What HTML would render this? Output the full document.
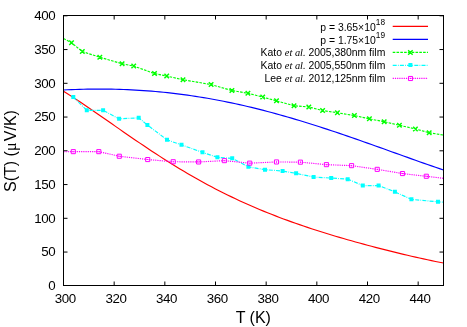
<!DOCTYPE html>
<html><head><meta charset="utf-8"><title>S(T)</title>
<style>html,body{margin:0;padding:0;background:#fff;width:467px;height:327px;overflow:hidden}body{position:relative;font-family:"Liberation Sans",sans-serif}</style>
</head><body>
<svg width="467" height="327" viewBox="0 0 467 327" style="position:absolute;left:0;top:0;will-change:transform">
<rect width="467" height="327" fill="#fff"/>
<path d="M63.50 285.50h4M443.50 285.50h-4M63.50 252.05h4M443.50 252.05h-4M63.50 218.30h4M443.50 218.30h-4M63.50 184.55h4M443.50 184.55h-4M63.50 150.80h4M443.50 150.80h-4M63.50 117.05h4M443.50 117.05h-4M63.50 83.30h4M443.50 83.30h-4M63.50 49.55h4M443.50 49.55h-4M63.50 15.80h4M443.50 15.80h-4M63.50 285.50v-4M63.50 15.50v4M114.17 285.50v-4M114.17 15.50v4M164.83 285.50v-4M164.83 15.50v4M215.50 285.50v-4M215.50 15.50v4M266.17 285.50v-4M266.17 15.50v4M316.83 285.50v-4M316.83 15.50v4M367.50 285.50v-4M367.50 15.50v4M418.17 285.50v-4M418.17 15.50v4" stroke="#000" stroke-width="1" fill="none"/>
<g fill="none" stroke-linejoin="round">
<path d="M63.50 91.29 L67.50 93.80 L71.50 96.36 L75.50 98.96 L79.50 101.60 L83.50 104.28 L87.50 106.99 L91.50 109.72 L95.50 112.47 L99.50 115.23 L103.50 118.01 L107.50 120.79 L111.50 123.58 L115.50 126.36 L119.50 129.15 L123.50 131.92 L127.50 134.69 L131.50 137.44 L135.50 140.17 L139.50 142.89 L143.50 145.59 L147.50 148.27 L151.50 150.92 L155.50 153.54 L159.50 156.14 L163.50 158.70 L167.50 161.24 L171.50 163.74 L175.50 166.21 L179.50 168.65 L183.50 171.05 L187.50 173.41 L191.50 175.74 L195.50 178.02 L199.50 180.27 L203.50 182.49 L207.50 184.66 L211.50 186.80 L215.50 188.89 L219.50 190.95 L223.50 192.97 L227.50 194.95 L231.50 196.89 L235.50 198.80 L239.50 200.67 L243.50 202.50 L247.50 204.29 L251.50 206.05 L255.50 207.78 L259.50 209.47 L263.50 211.12 L267.50 212.75 L271.50 214.34 L275.50 215.90 L279.50 217.43 L283.50 218.93 L287.50 220.40 L291.50 221.85 L295.50 223.27 L299.50 224.66 L303.50 226.03 L307.50 227.37 L311.50 228.69 L315.50 229.99 L319.50 231.26 L323.50 232.52 L327.50 233.76 L331.50 234.98 L335.50 236.18 L339.50 237.36 L343.50 238.53 L347.50 239.68 L351.50 240.81 L355.50 241.93 L359.50 243.04 L363.50 244.13 L367.50 245.21 L371.50 246.28 L375.50 247.33 L379.50 248.37 L383.50 249.40 L387.50 250.42 L391.50 251.42 L395.50 252.41 L399.50 253.39 L403.50 254.35 L407.50 255.30 L411.50 256.23 L415.50 257.15 L419.50 258.05 L423.50 258.93 L427.50 259.80 L431.50 260.64 L435.50 261.47 L439.50 262.27 L443.50 263.04" stroke="#ff0000" stroke-width="1.15"/>
<path d="M63.50 89.95 L67.50 89.77 L71.50 89.61 L75.50 89.47 L79.50 89.35 L83.50 89.25 L87.50 89.17 L91.50 89.11 L95.50 89.08 L99.50 89.07 L103.50 89.09 L107.50 89.12 L111.50 89.19 L115.50 89.27 L119.50 89.38 L123.50 89.52 L127.50 89.68 L131.50 89.86 L135.50 90.07 L139.50 90.31 L143.50 90.57 L147.50 90.85 L151.50 91.17 L155.50 91.51 L159.50 91.87 L163.50 92.26 L167.50 92.68 L171.50 93.13 L175.50 93.60 L179.50 94.09 L183.50 94.62 L187.50 95.17 L191.50 95.74 L195.50 96.34 L199.50 96.97 L203.50 97.62 L207.50 98.30 L211.50 99.01 L215.50 99.74 L219.50 100.50 L223.50 101.28 L227.50 102.08 L231.50 102.92 L235.50 103.77 L239.50 104.65 L243.50 105.55 L247.50 106.48 L251.50 107.43 L255.50 108.41 L259.50 109.40 L263.50 110.42 L267.50 111.46 L271.50 112.52 L275.50 113.61 L279.50 114.71 L283.50 115.84 L287.50 116.98 L291.50 118.14 L295.50 119.33 L299.50 120.53 L303.50 121.74 L307.50 122.98 L311.50 124.23 L315.50 125.50 L319.50 126.78 L323.50 128.08 L327.50 129.39 L331.50 130.71 L335.50 132.05 L339.50 133.40 L343.50 134.76 L347.50 136.13 L351.50 137.51 L355.50 138.90 L359.50 140.30 L363.50 141.71 L367.50 143.12 L371.50 144.54 L375.50 145.96 L379.50 147.39 L383.50 148.82 L387.50 150.25 L391.50 151.68 L395.50 153.12 L399.50 154.55 L403.50 155.98 L407.50 157.41 L411.50 158.84 L415.50 160.26 L419.50 161.68 L423.50 163.09 L427.50 164.49 L431.50 165.88 L435.50 167.26 L439.50 168.63 L443.50 169.99" stroke="#0000ff" stroke-width="1.15"/>
<path d="M63.50 38.45 L71.50 42.75 L82.30 51.55 L99.80 57.25 L122.10 63.75 L133.70 66.05 L154.50 73.55 L166.70 76.05 L183.00 79.75 L211.10 84.55 L231.90 90.55 L247.90 93.25 L262.70 97.05 L276.50 100.85 L294.00 105.75 L308.80 106.95 L322.60 110.55 L337.40 112.75 L354.40 115.55 L369.40 118.85 L384.20 121.75 L399.40 125.25 L415.40 128.95 L429.20 132.75 L443.50 135.05" stroke="#00ff00" stroke-width="1.15" stroke-dasharray="2.6 1.2"/>
<path d="M73.30 97.05 L86.80 110.35 L103.10 110.35 L119.10 118.85 L138.70 117.85 L147.40 125.05 L167.00 139.85 L181.50 144.85 L202.50 152.35 L217.40 157.35 L232.20 158.35 L248.40 166.85 L265.00 169.65 L282.60 171.05 L296.10 173.35 L313.60 177.05 L331.20 178.05 L347.70 179.15 L362.80 185.55 L378.60 185.55 L394.90 191.85 L411.40 199.35 L438.00 201.85 L443.50 202.25" stroke="#00ffff" stroke-width="1.15" stroke-dasharray="4 1.2 0.8 1.2"/>
<path d="M63.50 151.75 L73.30 151.65 L98.80 151.65 L119.30 156.25 L147.70 159.55 L173.20 161.75 L198.60 161.95 L224.40 160.65 L249.70 163.15 L276.50 161.95 L300.40 162.15 L326.40 164.65 L351.60 165.65 L377.20 169.35 L402.50 173.55 L426.30 176.25 L443.50 178.35" stroke="#ff00ff" stroke-width="1.15" stroke-dasharray="1.2 1"/>
</g>
<g fill="none">
<path d="M392.7 26.4H428.0" stroke="#ff0000" stroke-width="1.15"/>
<path d="M392.7 39.4H428.0" stroke="#0000ff" stroke-width="1.15"/>
<path d="M392.7 52.4H428.0" stroke="#00ff00" stroke-width="1.15" stroke-dasharray="2.6 1.2"/>
<path d="M392.7 65.3H428.0" stroke="#00ffff" stroke-width="1.15" stroke-dasharray="4 1.2 0.8 1.2"/>
<path d="M392.7 78.4H428.0" stroke="#ff00ff" stroke-width="1.15" stroke-dasharray="1.2 1"/>
</g>
<path d="M69.25 40.50l4.50 4.50M69.25 45.00l4.50 -4.50M80.05 49.30l4.50 4.50M80.05 53.80l4.50 -4.50M97.55 55.00l4.50 4.50M97.55 59.50l4.50 -4.50M119.85 61.50l4.50 4.50M119.85 66.00l4.50 -4.50M131.45 63.80l4.50 4.50M131.45 68.30l4.50 -4.50M152.25 71.30l4.50 4.50M152.25 75.80l4.50 -4.50M164.45 73.80l4.50 4.50M164.45 78.30l4.50 -4.50M180.75 77.50l4.50 4.50M180.75 82.00l4.50 -4.50M208.85 82.30l4.50 4.50M208.85 86.80l4.50 -4.50M229.65 88.30l4.50 4.50M229.65 92.80l4.50 -4.50M245.65 91.00l4.50 4.50M245.65 95.50l4.50 -4.50M260.45 94.80l4.50 4.50M260.45 99.30l4.50 -4.50M274.25 98.60l4.50 4.50M274.25 103.10l4.50 -4.50M291.75 103.50l4.50 4.50M291.75 108.00l4.50 -4.50M306.55 104.70l4.50 4.50M306.55 109.20l4.50 -4.50M320.35 108.30l4.50 4.50M320.35 112.80l4.50 -4.50M335.15 110.50l4.50 4.50M335.15 115.00l4.50 -4.50M352.15 113.30l4.50 4.50M352.15 117.80l4.50 -4.50M367.15 116.60l4.50 4.50M367.15 121.10l4.50 -4.50M381.95 119.50l4.50 4.50M381.95 124.00l4.50 -4.50M397.15 123.00l4.50 4.50M397.15 127.50l4.50 -4.50M413.15 126.70l4.50 4.50M413.15 131.20l4.50 -4.50M426.95 130.50l4.50 4.50M426.95 135.00l4.50 -4.50M408.15 50.15l4.50 4.50M408.15 54.65l4.50 -4.50" stroke="#00ff00" stroke-width="1.45" fill="none"/>
<path d="M71.30 95.05h4.00v4.00h-4.00zM84.80 108.35h4.00v4.00h-4.00zM101.10 108.35h4.00v4.00h-4.00zM117.10 116.85h4.00v4.00h-4.00zM136.70 115.85h4.00v4.00h-4.00zM145.40 123.05h4.00v4.00h-4.00zM165.00 137.85h4.00v4.00h-4.00zM179.50 142.85h4.00v4.00h-4.00zM200.50 150.35h4.00v4.00h-4.00zM215.40 155.35h4.00v4.00h-4.00zM230.20 156.35h4.00v4.00h-4.00zM246.40 164.85h4.00v4.00h-4.00zM263.00 167.65h4.00v4.00h-4.00zM280.60 169.05h4.00v4.00h-4.00zM294.10 171.35h4.00v4.00h-4.00zM311.60 175.05h4.00v4.00h-4.00zM329.20 176.05h4.00v4.00h-4.00zM345.70 177.15h4.00v4.00h-4.00zM360.80 183.55h4.00v4.00h-4.00zM376.60 183.55h4.00v4.00h-4.00zM392.90 189.85h4.00v4.00h-4.00zM409.40 197.35h4.00v4.00h-4.00zM436.00 199.85h4.00v4.00h-4.00zM408.40 63.10h4.00v4.00h-4.00z" fill="#00ffff" stroke="none"/>
<path d="M71.25 149.60h4.10v4.10h-4.10zM96.75 149.60h4.10v4.10h-4.10zM117.25 154.20h4.10v4.10h-4.10zM145.65 157.50h4.10v4.10h-4.10zM171.15 159.70h4.10v4.10h-4.10zM196.55 159.90h4.10v4.10h-4.10zM222.35 158.60h4.10v4.10h-4.10zM247.65 161.10h4.10v4.10h-4.10zM274.45 159.90h4.10v4.10h-4.10zM298.35 160.10h4.10v4.10h-4.10zM324.35 162.60h4.10v4.10h-4.10zM349.55 163.60h4.10v4.10h-4.10zM375.15 167.30h4.10v4.10h-4.10zM400.45 171.50h4.10v4.10h-4.10zM424.25 174.20h4.10v4.10h-4.10zM408.45 76.45h4.10v4.10h-4.10z" fill="none" stroke="#ff00ff" stroke-width="1"/>
<path d="M72.80 151.15h1v1h-1zM98.30 151.15h1v1h-1zM118.80 155.75h1v1h-1zM147.20 159.05h1v1h-1zM172.70 161.25h1v1h-1zM198.10 161.45h1v1h-1zM223.90 160.15h1v1h-1zM249.20 162.65h1v1h-1zM276.00 161.45h1v1h-1zM299.90 161.65h1v1h-1zM325.90 164.15h1v1h-1zM351.10 165.15h1v1h-1zM376.70 168.85h1v1h-1zM402.00 173.05h1v1h-1zM425.80 175.75h1v1h-1zM410.00 78.00h1v1h-1z" fill="#ff00ff" stroke="none"/>
<rect x="63.5" y="15.5" width="380.0" height="270.0" fill="none" stroke="#000" stroke-width="1"/>
<g font-family="Liberation Sans, sans-serif" font-size="13.33" fill="#000" letter-spacing="-0.41">
<text x="55.2" y="290.10" text-anchor="end">0</text>
<text x="55.2" y="256.35" text-anchor="end">50</text>
<text x="55.2" y="222.60" text-anchor="end">100</text>
<text x="55.2" y="188.85" text-anchor="end">150</text>
<text x="55.2" y="155.10" text-anchor="end">200</text>
<text x="55.2" y="121.35" text-anchor="end">250</text>
<text x="55.2" y="87.60" text-anchor="end">300</text>
<text x="55.2" y="53.85" text-anchor="end">350</text>
<text x="55.2" y="20.10" text-anchor="end">400</text>
<text x="65.30" y="303.3" text-anchor="middle">300</text>
<text x="115.97" y="303.3" text-anchor="middle">320</text>
<text x="166.63" y="303.3" text-anchor="middle">340</text>
<text x="217.30" y="303.3" text-anchor="middle">360</text>
<text x="267.97" y="303.3" text-anchor="middle">380</text>
<text x="318.63" y="303.3" text-anchor="middle">400</text>
<text x="369.30" y="303.3" text-anchor="middle">420</text>
<text x="419.97" y="303.3" text-anchor="middle">440</text>
</g>
<text font-family="Liberation Sans, sans-serif" font-size="16" x="253.3" y="323.2" text-anchor="middle">T (K)</text>
<text font-family="Liberation Sans, sans-serif" font-size="16" transform="translate(16.1 151) rotate(-90)" text-anchor="middle">S(T) (<tspan font-family="Liberation Serif, serif" letter-spacing="1.3">μ</tspan>V/K)</text>
<g font-family="Liberation Sans, sans-serif" font-size="10.4" text-anchor="end">
<text x="385.0" y="30.7">p = 3.65×10<tspan font-size="8.3" dy="-5.4">18</tspan></text>
<text x="385.0" y="43.8">p = 1.75×10<tspan font-size="8.3" dy="-5.4">19</tspan></text>
<text x="385.3" y="55.8">Kato <tspan font-family="Liberation Serif, serif" font-style="italic">et al.</tspan> 2005,380nm film</text>
<text x="385.3" y="68.8">Kato <tspan font-family="Liberation Serif, serif" font-style="italic">et al.</tspan> 2005,550nm film</text>
<text x="385.3" y="81.8">Lee <tspan font-family="Liberation Serif, serif" font-style="italic">et al.</tspan> 2012,125nm film</text>
</g>
</svg>
</body></html>
